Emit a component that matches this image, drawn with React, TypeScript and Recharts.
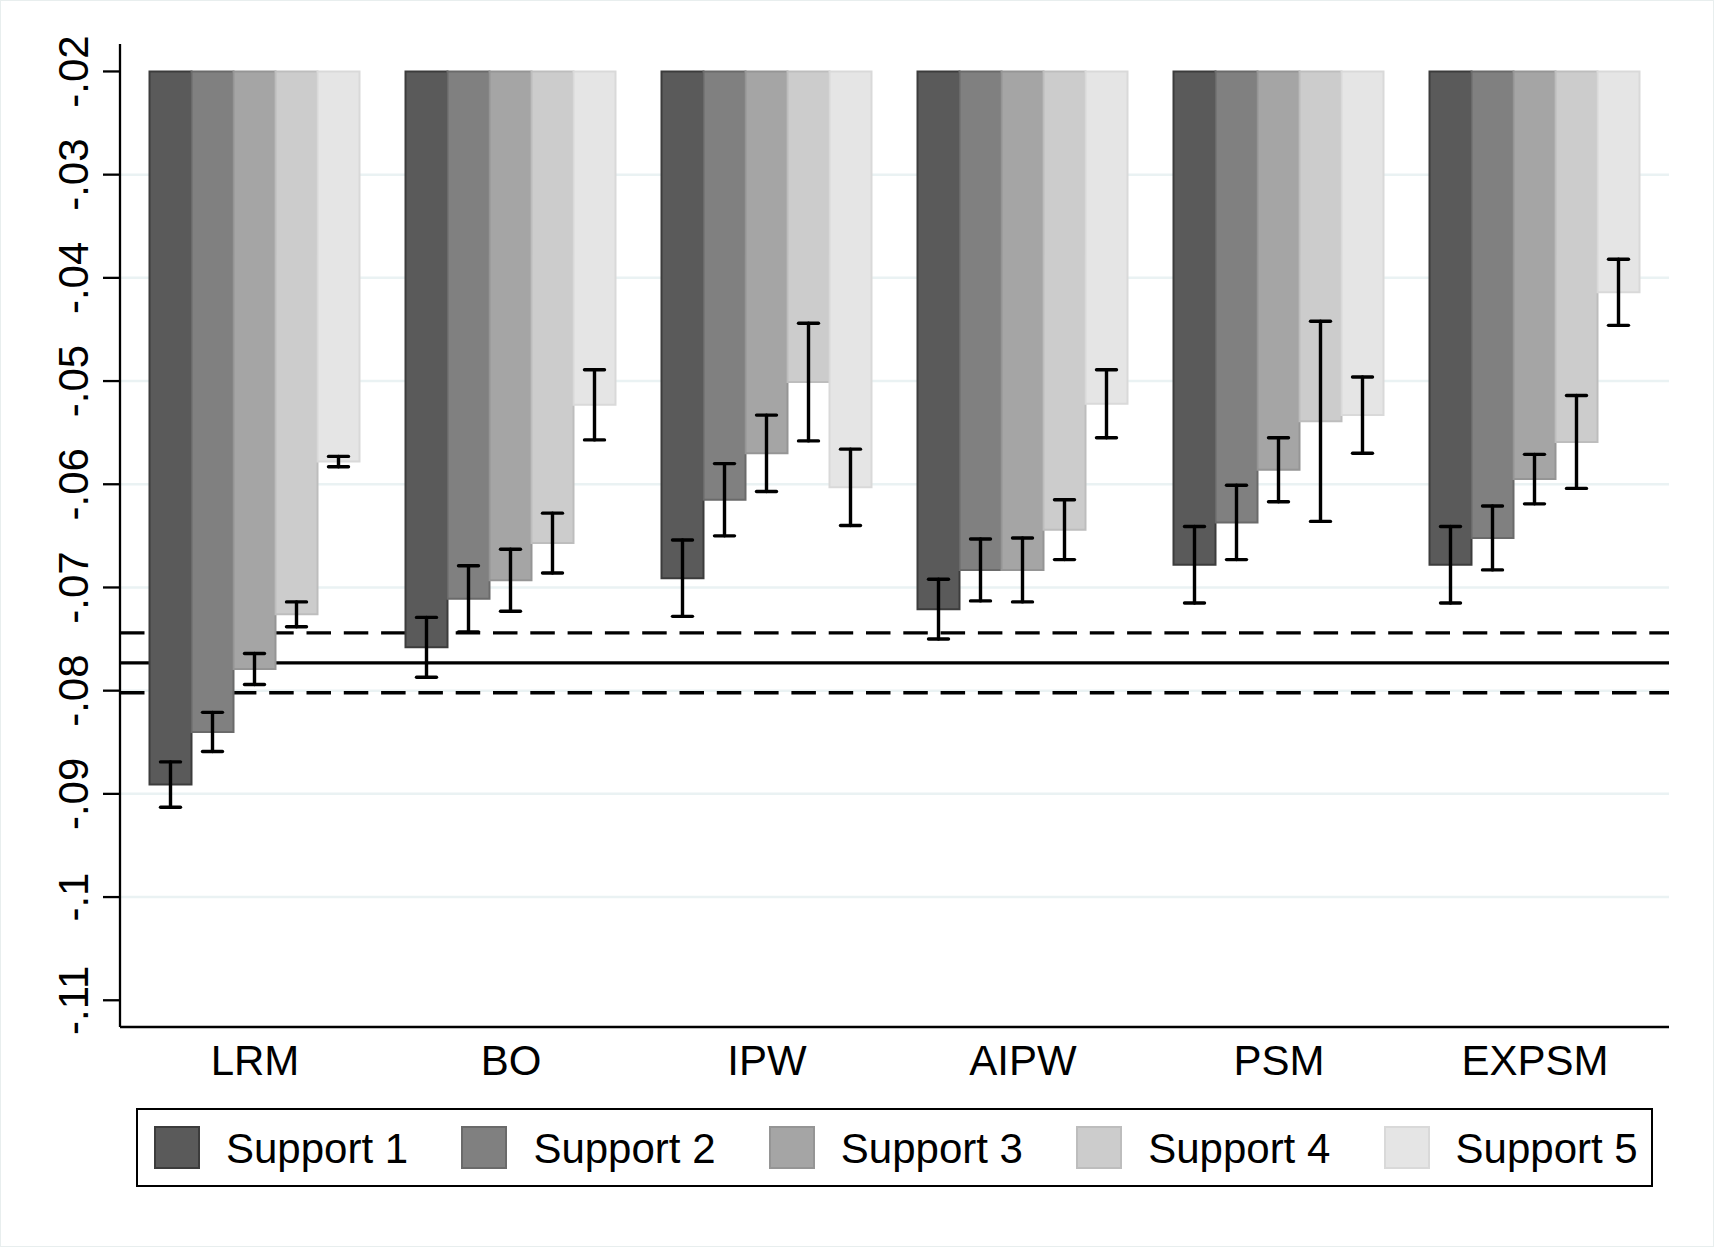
import { BarChart, Bar, XAxis, YAxis, CartesianGrid, ReferenceLine, ErrorBar } from "recharts";

// estimates by method (category) and support level (series)
const categories = ["LRM", "BO", "IPW", "AIPW", "PSM", "EXPSM"];
const seriesNames = ["Support 1", "Support 2", "Support 3", "Support 4", "Support 5"];

const support1 = [-0.0891, -0.0758, -0.0691, -0.0721, -0.0678, -0.0678];
const support2 = [-0.084, -0.0711, -0.0615, -0.0683, -0.0637, -0.0652];
const support3 = [-0.0779, -0.0693, -0.057, -0.0683, -0.0586, -0.0595];
const support4 = [-0.0726, -0.0657, -0.0501, -0.0644, -0.0539, -0.0559];
const support5 = [-0.0578, -0.0523, -0.0603, -0.0522, -0.0533, -0.0414];

// half-widths of the confidence intervals
const support1Ci = [0.0022, 0.0029, 0.0037, 0.0029, 0.0037, 0.0037];
const support2Ci = [0.0019, 0.0032, 0.0035, 0.003, 0.0036, 0.0031];
const support3Ci = [0.0015, 0.003, 0.0037, 0.0031, 0.0031, 0.0024];
const support4Ci = [0.0012, 0.0029, 0.0057, 0.0029, 0.0097, 0.0045];
const support5Ci = [0.0005, 0.0034, 0.0037, 0.0033, 0.0037, 0.0032];

const barBase = -0.02;
const yTicks = [-0.02, -0.03, -0.04, -0.05, -0.06, -0.07, -0.08, -0.09, -0.1, -0.11];
const gridValues = [-0.03, -0.04, -0.05, -0.06, -0.07, -0.08, -0.09, -0.1];
const benchmark = -0.0773;
const benchmarkLower = -0.0802;
const benchmarkUpper = -0.0744;

const seriesValues = [support1, support2, support3, support4, support5];
const seriesCi = [support1Ci, support2Ci, support3Ci, support4Ci, support5Ci];

const FILLS = ["#5a5a5a", "#808080", "#a5a5a5", "#cccccc", "#e5e5e5"];
const STROKES = ["#3c3c3c", "#6a6a6a", "#959595", "#bdbdbd", "#d9d9d9"];
const FONT = '"Liberation Sans", Arial, sans-serif';

const data = categories.map((name, i) => {
  const row: Record<string, any> = { name };
  seriesValues.forEach((vals, s) => {
    row[`s${s}`] = [barBase, vals[i]];
    row[`e${s}`] = seriesCi[s][i];
  });
  return row;
});

function fmtTick(v: number) {
  return String(Number(v.toFixed(2))).replace("0.", ".");
}

function YTick(props: any) {
  const { x, y, payload } = props;
  return (
    <text
      x={x}
      y={y}
      transform={`rotate(-90 ${x} ${y})`}
      textAnchor="middle"
      fontSize={42}
      fontFamily={FONT}
      fill="#000"
    >
      {fmtTick(payload.value)}
    </text>
  );
}

function XTick(props: any) {
  const { x, y, payload } = props;
  return (
    <text x={x} y={y} textAnchor="middle" fontSize={42} fontFamily={FONT} fill="#000">
      {payload.value}
    </text>
  );
}

function LegendBox() {
  return (
    <div
      style={{
        position: "absolute",
        left: 136,
        top: 1108,
        width: 1517,
        height: 79,
        border: "2px solid #000",
        boxSizing: "border-box",
        fontFamily: FONT,
      }}
    >
      {seriesNames.map((name, s) => (
        <div key={name} style={{ position: "absolute", left: 16 + s * 307.4, top: 16 }}>
          <div
            style={{
              position: "absolute",
              left: 0,
              top: 0,
              width: 46,
              height: 43,
              boxSizing: "border-box",
              background: FILLS[s],
              border: `2px solid ${STROKES[s]}`,
            }}
          />
          <span
            style={{
              position: "absolute",
              left: 72,
              top: 2,
              fontSize: 42,
              lineHeight: "42px",
              whiteSpace: "nowrap",
              color: "#000",
            }}
          >
            {name}
          </span>
        </div>
      ))}
    </div>
  );
}

export default function App() {
  return (
    <div
      style={{
        position: "absolute",
        left: 0,
        top: 0,
        width: 1714,
        height: 1247,
        background: "#fff",
        overflow: "hidden",
      }}
    >
      <style>{`.recharts-errorBar line { stroke-width: 3.4px; stroke-linecap: round; }`}</style>
      <BarChart
        width={1714}
        height={1247}
        data={data}
        margin={{ top: 44, right: 45, bottom: 160, left: 0 }}
        barCategoryGap={22.5}
        barGap={0}
      >
        <CartesianGrid
          horizontal
          vertical={false}
          horizontalValues={gridValues}
          stroke="#eaf2f3"
          strokeWidth={2.5}
        />
        <ReferenceLine y={benchmarkUpper} stroke="#000" strokeWidth={3.3} strokeDasharray="24.5 12.8" zIndex={-50} />
        <ReferenceLine y={benchmark} stroke="#000" strokeWidth={3.3} zIndex={-50} />
        <ReferenceLine y={benchmarkLower} stroke="#000" strokeWidth={3.3} strokeDasharray="24.5 12.8" zIndex={-50} />
        <XAxis
          dataKey="name"
          height={60}
          padding={{ left: 7, right: 6 }}
          axisLine={{ stroke: "#000", strokeWidth: 2.3 }}
          tickLine={false}
          tickSize={0}
          tickMargin={48}
          tick={<XTick />}
          interval={0}
        />
        <YAxis
          width={120}
          domain={[-0.11259, -0.01734]}
          ticks={yTicks}
          allowDataOverflow
          axisLine={{ stroke: "#000", strokeWidth: 2.3 }}
          tickLine={{ stroke: "#000", strokeWidth: 2.3 }}
          tickSize={17}
          tickMargin={15}
          tick={<YTick />}
          interval={0}
        />
        {seriesNames.map((name, s) => (
          <Bar
            key={name}
            name={name}
            dataKey={`s${s}`}
            fill={FILLS[s]}
            stroke={STROKES[s]}
            strokeWidth={2}
            isAnimationActive={false}
          >
            <ErrorBar
              dataKey={`e${s}`}
              direction="y"
              width={10}
              stroke="#000"
              strokeWidth={3.4}
              strokeLinecap="round"
            />
          </Bar>
        ))}
      </BarChart>
      <LegendBox />
      <div
        style={{
          position: "absolute",
          inset: 0,
          border: "1px solid #e8eeee",
          pointerEvents: "none",
        }}
      />
    </div>
  );
}
